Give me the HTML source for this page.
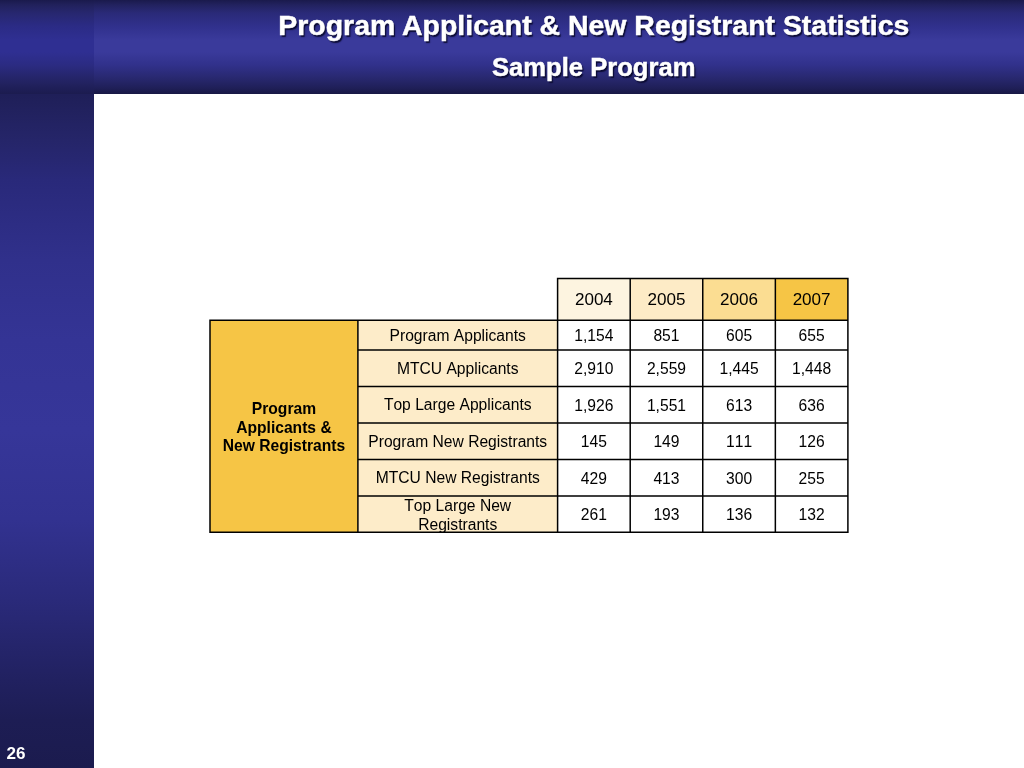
<!DOCTYPE html>
<html><head><meta charset="utf-8">
<style>
html,body{margin:0;padding:0;}
body{font-kerning:none;width:1024px;height:768px;overflow:hidden;background:#fff;font-family:"Liberation Sans",sans-serif;position:relative;}
#side{position:absolute;left:0;top:0;width:94px;height:768px;background:linear-gradient(to bottom,#1f1f58 94px,#252569 140px,#29297a 180px,#2d2d84 225px,#30308b 260px,#343495 340px,#363699 430px,#323290 520px,#2a2a7a 600px,#212160 680px,#1d1d54 720px,#1b1b4e 768px);}
#head{position:absolute;left:0;top:0;width:1024px;height:93.5px;background:linear-gradient(to bottom,#1a1a4c 0,#22225f 5px,#2a2a78 13px,#30308c 26px,#3a3a9b 40px,#3a3a9b 52px,#31318b 65px,#28286f 78px,#1f1f58 88px,#191946 93.5px);}
#headL{position:absolute;left:0;top:0;width:94px;height:93.5px;background:linear-gradient(to bottom,#1a1a4c 0,#21215c 5px,#27276f 13px,#2b2b85 26px,#2f2f92 40px,#2f2f92 52px,#2b2b82 65px,#252569 78px,#1f1f58 88px,#1c1c50 93.5px);}
.t{font-kerning:normal;position:absolute;color:#fff;font-weight:bold;white-space:nowrap;text-shadow:1.5px 1.5px 1.2px rgba(8,8,45,.95);-webkit-text-stroke:0.5px #fff;}
#t1{left:278.3px;top:9.2px;font-size:28.44px;line-height:32px;}
#t2{left:492px;top:53px;font-size:25.6px;line-height:29px;}
#pg{position:absolute;left:6.5px;top:744.8px;color:#fff;font-weight:bold;font-size:17.07px;line-height:18px;}
.c{position:absolute;display:flex;align-items:center;justify-content:center;text-align:center;font-size:15.64px;line-height:18.77px;color:#000;}
#grid{position:absolute;left:0;top:0;}
</style></head><body>
<div id="side"></div><div id="head"></div><div id="headL"></div>
<div class="t" id="t1">Program Applicant &amp; New Registrant Statistics</div>
<div class="t" id="t2">Sample Program</div>
<div id="pg">26</div>
<div id="tbl">
<svg id="grid" width="1024" height="768" viewBox="0 0 1024 768">
<rect x="557.6" y="278.55" width="72.60" height="41.65" fill="#fdf4e0"/>
<rect x="630.2" y="278.55" width="72.55" height="41.65" fill="#fdebc6"/>
<rect x="702.75" y="278.55" width="72.60" height="41.65" fill="#fbdd92"/>
<rect x="775.35" y="278.55" width="72.55" height="41.65" fill="#f6c545"/>
<rect x="210.0" y="320.2" width="147.90" height="212.10" fill="#f6c545"/>
<rect x="357.9" y="320.2" width="199.70" height="212.10" fill="#fdecc9"/>
<path d="M556.85 278.55L848.65 278.55M209.25 320.20L848.65 320.20M357.90 349.95L848.65 349.95M357.90 386.50L848.65 386.50M357.90 423.00L848.65 423.00M357.90 459.50L848.65 459.50M357.90 495.90L848.65 495.90M209.25 532.30L848.65 532.30M210.00 320.20L210.00 532.30M357.90 320.20L357.90 532.30M557.60 278.55L557.60 532.30M630.20 278.55L630.20 532.30M702.75 278.55L702.75 532.30M775.35 278.55L775.35 532.30M847.90 278.55L847.90 532.30" stroke="#000" stroke-width="1.5" fill="none"/>
</svg>
<div class="c" style="left:557.6px;top:279.35px;width:72.60px;height:41.65px;font-size:17.07px;">2004</div>
<div class="c" style="left:630.2px;top:279.35px;width:72.55px;height:41.65px;font-size:17.07px;">2005</div>
<div class="c" style="left:702.75px;top:279.35px;width:72.60px;height:41.65px;font-size:17.07px;">2006</div>
<div class="c" style="left:775.35px;top:279.35px;width:72.55px;height:41.65px;font-size:17.07px;">2007</div>
<div class="c" style="left:210.0px;top:321.70px;width:147.90px;height:212.10px;font-weight:bold;line-height:18.4px;"><span>Program<br>Applicants &amp;<br>New Registrants</span></div>
<div class="c" style="left:357.9px;top:321.30px;width:199.70px;height:29.75px;"><span>Program Applicants</span></div>
<div class="c" style="left:557.6px;top:321.40px;width:72.60px;height:29.75px;">1,154</div>
<div class="c" style="left:630.2px;top:321.40px;width:72.55px;height:29.75px;">851</div>
<div class="c" style="left:702.75px;top:321.40px;width:72.60px;height:29.75px;">605</div>
<div class="c" style="left:775.35px;top:321.40px;width:72.55px;height:29.75px;">655</div>
<div class="c" style="left:357.9px;top:351.05px;width:199.70px;height:36.55px;"><span>MTCU Applicants</span></div>
<div class="c" style="left:557.6px;top:351.15px;width:72.60px;height:36.55px;">2,910</div>
<div class="c" style="left:630.2px;top:351.15px;width:72.55px;height:36.55px;">2,559</div>
<div class="c" style="left:702.75px;top:351.15px;width:72.60px;height:36.55px;">1,445</div>
<div class="c" style="left:775.35px;top:351.15px;width:72.55px;height:36.55px;">1,448</div>
<div class="c" style="left:357.9px;top:387.60px;width:199.70px;height:36.50px;"><span>Top Large Applicants</span></div>
<div class="c" style="left:557.6px;top:387.70px;width:72.60px;height:36.50px;">1,926</div>
<div class="c" style="left:630.2px;top:387.70px;width:72.55px;height:36.50px;">1,551</div>
<div class="c" style="left:702.75px;top:387.70px;width:72.60px;height:36.50px;">613</div>
<div class="c" style="left:775.35px;top:387.70px;width:72.55px;height:36.50px;">636</div>
<div class="c" style="left:357.9px;top:424.10px;width:199.70px;height:36.50px;"><span>Program New Registrants</span></div>
<div class="c" style="left:557.6px;top:424.20px;width:72.60px;height:36.50px;">145</div>
<div class="c" style="left:630.2px;top:424.20px;width:72.55px;height:36.50px;">149</div>
<div class="c" style="left:702.75px;top:424.20px;width:72.60px;height:36.50px;">111</div>
<div class="c" style="left:775.35px;top:424.20px;width:72.55px;height:36.50px;">126</div>
<div class="c" style="left:357.9px;top:460.60px;width:199.70px;height:36.40px;"><span>MTCU New Registrants</span></div>
<div class="c" style="left:557.6px;top:460.70px;width:72.60px;height:36.40px;">429</div>
<div class="c" style="left:630.2px;top:460.70px;width:72.55px;height:36.40px;">413</div>
<div class="c" style="left:702.75px;top:460.70px;width:72.60px;height:36.40px;">300</div>
<div class="c" style="left:775.35px;top:460.70px;width:72.55px;height:36.40px;">255</div>
<div class="c" style="left:357.9px;top:497.60px;width:199.70px;height:36.40px;"><span>Top Large New<br>Registrants</span></div>
<div class="c" style="left:557.6px;top:497.10px;width:72.60px;height:36.40px;">261</div>
<div class="c" style="left:630.2px;top:497.10px;width:72.55px;height:36.40px;">193</div>
<div class="c" style="left:702.75px;top:497.10px;width:72.60px;height:36.40px;">136</div>
<div class="c" style="left:775.35px;top:497.10px;width:72.55px;height:36.40px;">132</div>
</div>
</body></html>
